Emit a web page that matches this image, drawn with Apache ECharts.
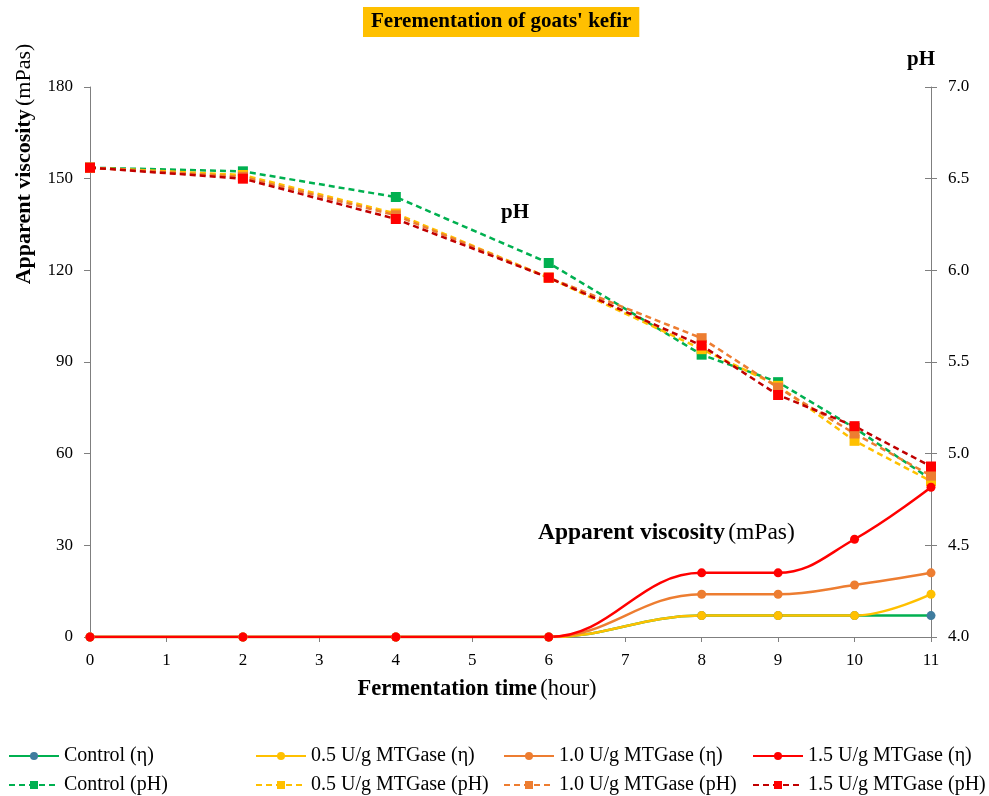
<!DOCTYPE html>
<html>
<head>
<meta charset="utf-8">
<script src="https://cdn.jsdelivr.net/npm/echarts@6/dist/echarts.min.js"></script>
<style>
  html, body { margin: 0; padding: 0; background: #fff; }
  #chart { width: 989px; height: 796px; }
</style>
</head>
<body>
<div id="chart"></div>
<script>
// Sampling times (hours)
const hours = [0, 2, 4, 6, 8, 9, 10, 11];

// Apparent viscosity (mPas)
const viscControl = [0, 0, 0, 0, 7, 7, 7, 7];
const visc05 = [0, 0, 0, 0, 7, 7, 7, 14];
const visc10 = [0, 0, 0, 0, 14, 14, 17, 21];
const visc15 = [0, 0, 0, 0, 21, 21, 32, 49];

// pH
const phControl = [6.56, 6.54, 6.40, 6.04, 5.54, 5.39, 5.14, 4.86];
const ph05 = [6.56, 6.52, 6.31, 5.96, 5.57, 5.37, 5.07, 4.85];
const ph10 = [6.56, 6.51, 6.30, 5.96, 5.63, 5.36, 5.11, 4.88];
const ph15 = [6.56, 6.50, 6.28, 5.96, 5.59, 5.32, 5.15, 4.93];

const seriesNames = [
  'Control (η)', '0.5 U/g MTGase (η)', '1.0 U/g MTGase (η)', '1.5 U/g MTGase (η)',
  'Control (pH)', '0.5 U/g MTGase (pH)', '1.0 U/g MTGase (pH)', '1.5 U/g MTGase (pH)'
];

const FONT = '"Liberation Serif", "Times New Roman", serif';

function pairs(ys) { return hours.map((h, i) => [h, ys[i]]); }

function viscSeries(name, ys, lineColor, markColor) {
  return {
    name, type: 'line', yAxisIndex: 0, smooth: 0.4,
    data: pairs(ys), symbol: 'circle', symbolSize: 9,
    lineStyle: { color: lineColor, width: 2.5 },
    itemStyle: { color: markColor, borderWidth: 0 },
    emphasis: { disabled: true }, z: 3
  };
}
function phSeries(name, ys, lineColor, markColor) {
  return {
    name, type: 'line', yAxisIndex: 1, smooth: false,
    data: pairs(ys), symbol: 'rect', symbolSize: 10,
    lineStyle: { color: lineColor, width: 2.5, type: [6, 4] },
    itemStyle: { color: markColor, borderWidth: 0 },
    emphasis: { disabled: true }, z: 2
  };
}

const series = [
  viscSeries(seriesNames[0], viscControl, '#00B050', '#3F7C9E'),
  viscSeries(seriesNames[1], visc05, '#FFC000', '#FFC000'),
  viscSeries(seriesNames[2], visc10, '#ED7D31', '#ED7D31'),
  viscSeries(seriesNames[3], visc15, '#FF0000', '#FF0000'),
  phSeries(seriesNames[4], phControl, '#00B050', '#00B050'),
  phSeries(seriesNames[5], ph05, '#FFC000', '#FFC000'),
  phSeries(seriesNames[6], ph10, '#ED7D31', '#ED7D31'),
  phSeries(seriesNames[7], ph15, '#C00000', '#FF0000')
];

// legend: 4 columns x 2 rows
const colLeft = [3, 250, 498, 747];
const rowTop = [741, 770];
const legends = seriesNames.map((n, i) => ({
  data: [n],
  left: colLeft[i % 4],
  top: rowTop[Math.floor(i / 4)],
  itemWidth: 50, itemHeight: 10, itemGap: 4,
  textStyle: { fontFamily: FONT, fontSize: 20, color: '#000' },
  selectedMode: false
}));

const axisGrey = '#7f7f7f';
const TICK_FONT = 17;

const option = {
  animation: false,
  backgroundColor: '#fff',
  title: {
    text: "Ferementation of goats' kefir",
    left: 363, top: 7,
    backgroundColor: '#FFC000',
    padding: [4, 8, 4, 8],
    textStyle: { fontFamily: FONT, fontSize: 21, fontWeight: 'bold', color: '#000', lineHeight: 22 }
  },
  legend: legends,
  grid: { left: 90, right: 58, top: 87, bottom: 159 },
  xAxis: {
    type: 'value', min: 0, max: 11, interval: 1,
    axisLine: { show: true, lineStyle: { color: axisGrey, width: 1 } },
    axisTick: { show: true, length: 5, lineStyle: { color: axisGrey } },
    axisLabel: { fontFamily: FONT, fontSize: TICK_FONT, color: '#000', margin: 15 },
    splitLine: { show: false }
  },
  yAxis: [
    {
      type: 'value', min: 0, max: 180, interval: 30, position: 'left',
      axisLine: { show: true, lineStyle: { color: axisGrey, width: 1 } },
      axisTick: { show: true, length: 6, lineStyle: { color: axisGrey } },
      axisLabel: { fontFamily: FONT, fontSize: TICK_FONT, color: '#000', margin: 17 },
      splitLine: { show: false }
    },
    {
      type: 'value', min: 4, max: 7, interval: 0.5, position: 'right',
      axisLine: { show: true, lineStyle: { color: axisGrey, width: 1 } },
      axisTick: { show: true, length: 6, lineStyle: { color: axisGrey } },
      axisLabel: { fontFamily: FONT, fontSize: TICK_FONT, color: '#000', margin: 17, formatter: v => v.toFixed(1) },
      splitLine: { show: false }
    },
    {
      // inner half of the crossing ticks on the pH axis
      type: 'value', min: 4, max: 7, interval: 0.5, position: 'right',
      axisLine: { show: false },
      axisTick: { show: true, inside: true, length: 6, lineStyle: { color: axisGrey } },
      axisLabel: { show: false },
      splitLine: { show: false }
    }
  ],
  graphic: [
    {
      // left axis title
      type: 'text', x: 24, y: 164, rotation: Math.PI / 2,
      style: {
        text: '{b|Apparent viscosity} {n|(mPas)}',
        align: 'center', verticalAlign: 'middle',
        rich: {
          b: { fontFamily: FONT, fontSize: 22, fontWeight: 'bold', fill: '#000' },
          n: { fontFamily: FONT, fontSize: 22, fill: '#000' }
        }
      }
    },
    {
      // bottom axis title
      type: 'text', x: 477, y: 689,
      style: {
        text: '{b|Fermentation time} {n|(hour)}',
        align: 'center', verticalAlign: 'middle',
        rich: {
          b: { fontFamily: FONT, fontSize: 22.5, fontWeight: 'bold', fill: '#000' },
          n: { fontFamily: FONT, fontSize: 22.5, fill: '#000' }
        }
      }
    },
    {
      // right axis title
      type: 'text', x: 921, y: 60,
      style: { text: 'pH', align: 'center', verticalAlign: 'middle', fontFamily: FONT, fontSize: 21, fontWeight: 'bold', fill: '#000' }
    },
    {
      type: 'text', x: 515, y: 213,
      style: { text: 'pH', align: 'center', verticalAlign: 'middle', fontFamily: FONT, fontSize: 21, fontWeight: 'bold', fill: '#000' }
    },
    {
      type: 'text', x: 538, y: 533,
      style: {
        text: '{b|Apparent viscosity} {n|(mPas)}',
        verticalAlign: 'middle',
        rich: {
          b: { fontFamily: FONT, fontSize: 23.5, fontWeight: 'bold', fill: '#000' },
          n: { fontFamily: FONT, fontSize: 23.5, fill: '#000' }
        }
      }
    }
  ],
  series
};

const chart = echarts.init(document.getElementById('chart'), null, { renderer: 'canvas' });
chart.setOption(option);
</script>
</body>
</html>
